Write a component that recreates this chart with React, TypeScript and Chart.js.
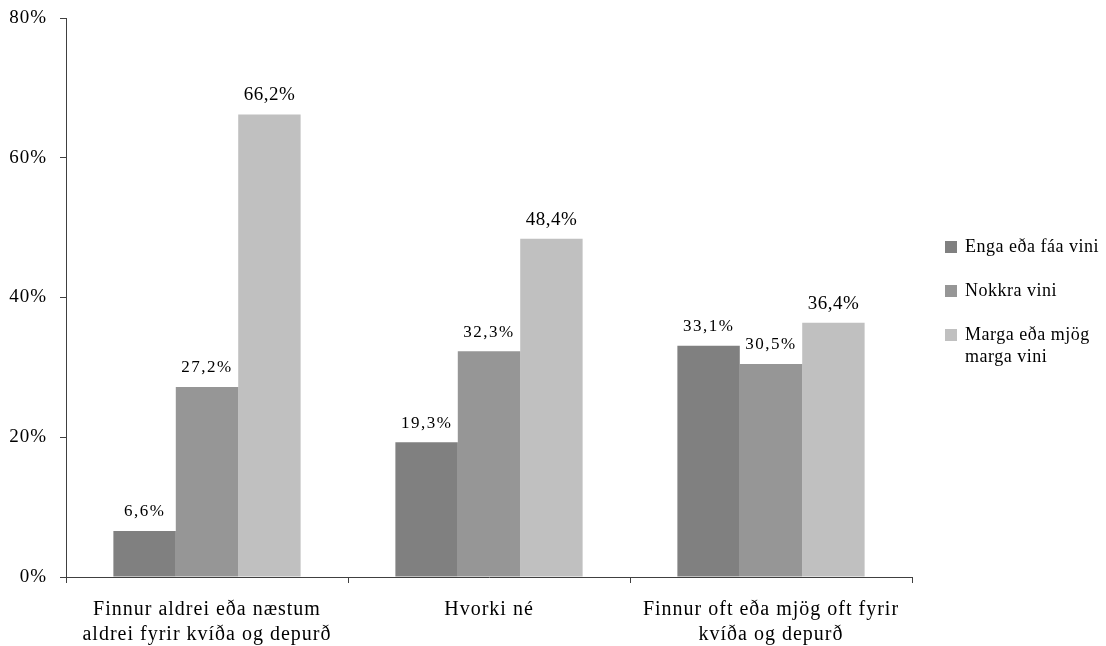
import React, { useEffect, useRef } from "react";
import { Chart, registerables } from "chart.js";

Chart.register(...registerables);

const categories: string[][] = [
  ["Finnur aldrei eða næstum", "aldrei fyrir kvíða og depurð"],
  ["Hvorki né"],
  ["Finnur oft eða mjög oft fyrir", "kvíða og depurð"],
];
const seriesNames: string[][] = [["Enga eða fáa vini"], ["Nokkra vini"], ["Marga eða mjög", "marga vini"]];
const engaValues = [6.6, 19.3, 33.1];
const nokkraValues = [27.2, 32.3, 30.5];
const margaValues = [66.2, 48.4, 36.4];
const seriesColors = ["#808080", "#969696", "#c0c0c0"];
const yTicks = [0, 20, 40, 60, 80];

const FONT = "'Liberation Serif', 'Times New Roman', serif";

const fmt = (v: number) => v.toFixed(1).replace(".", ",") + "%";

const spacingPlugin = {
  id: "spacing",
  beforeDraw(chart: any) {
    (chart.ctx as any).letterSpacing = "1px";
  },
};

const labelsPlugin = {
  id: "valueLabels",
  afterDatasetsDraw(chart: any) {
    const ctx = chart.ctx;
    ctx.save();
    ctx.fillStyle = "#000";
    ctx.textAlign = "center";
    ctx.textBaseline = "middle";
    chart.data.datasets.forEach((ds: any, di: number) => {
      const meta = chart.getDatasetMeta(di);
      const big = di === 2;
      ctx.font = `${big ? 19 : 17}px ${FONT}`;
      (ctx as any).letterSpacing = big ? "0.5px" : "1.5px";
      meta.data.forEach((bar: any, i: number) => {
        ctx.fillText(fmt(ds.data[i]), bar.x, bar.y - 19);
      });
    });
    ctx.restore();
  },
};

const legendPlugin = {
  id: "customLegend",
  afterDraw(chart: any) {
    const ctx = chart.ctx;
    ctx.save();
    ctx.font = `18px ${FONT}`;
    (ctx as any).letterSpacing = "0.5px";
    ctx.textBaseline = "middle";
    ctx.textAlign = "left";
    const x0 = 945;
    const ys = [247, 291, 335];
    seriesNames.forEach((lines, i) => {
      ctx.fillStyle = seriesColors[i];
      ctx.fillRect(x0, ys[i] - 6, 12, 12);
      ctx.fillStyle = "#000";
      lines.forEach((l, j) => ctx.fillText(l, x0 + 20, ys[i] + j * 22));
    });
    ctx.restore();
  },
};

export default function App() {
  const ref = useRef<HTMLCanvasElement>(null);
  useEffect(() => {
    const chart = new Chart(ref.current!, {
      type: "bar",
      data: {
        labels: categories,
        datasets: [engaValues, nokkraValues, margaValues].map((d, i) => ({
          label: seriesNames[i].join(" "),
          data: d,
          backgroundColor: seriesColors[i],
          borderWidth: 0,
          categoryPercentage: 0.664,
          barPercentage: 1,
        })),
      },
      options: {
        animation: false,
        responsive: true,
        maintainAspectRatio: false,
        layout: { padding: { top: 18, right: 194, left: 0, bottom: 0 } },
        plugins: { legend: { display: false }, tooltip: { enabled: false } },
        scales: {
          x: {
            grid: { offset: true, drawOnChartArea: false, drawTicks: true, tickLength: 6, color: "#404040" },
            border: { color: "#404040", width: 1 },
            ticks: { color: "#000", font: { family: FONT, size: 20, lineHeight: 1.25 }, padding: 14, maxRotation: 0, autoSkip: false },
            afterFit: (s: any) => { s.height = 69; s.paddingLeft = 0; s.paddingRight = 0; },
          },
          y: {
            min: 0,
            max: 80,
            afterBuildTicks: (s: any) => { s.ticks = yTicks.map((v) => ({ value: v })); },
            grid: { drawOnChartArea: false, drawTicks: true, tickLength: 6, color: "#404040" },
            border: { color: "#404040", width: 1 },
            ticks: { color: "#000", font: { family: FONT, size: 19 }, padding: 13, callback: (v: any) => v + "%" },
            afterFit: (s: any) => { s.width = 66; s.paddingTop = 0; s.paddingBottom = 0; },
          },
        },
      },
      plugins: [spacingPlugin, labelsPlugin, legendPlugin],
    });
    return () => chart.destroy();
  }, []);
  return (
    <div style={{ position: "fixed", left: 0, top: 0, width: 1106, height: 646, background: "#fff" }}>
      <canvas ref={ref} />
    </div>
  );
}
